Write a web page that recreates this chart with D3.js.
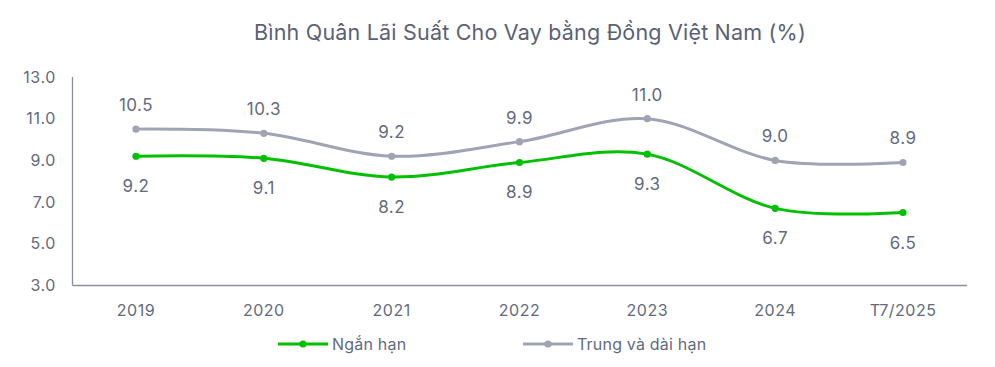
<!DOCTYPE html>
<html><head><meta charset="utf-8">
<script src="https://cdn.jsdelivr.net/npm/d3@7"></script>
<style>body{margin:0;background:#fff;} svg{display:block;font-family:Inter,"Noto Sans",sans-serif;}</style>
</head><body>
<svg id="c" width="995" height="367"></svg>
<script>
const categories = ["2019","2020","2021","2022","2023","2024","T7/2025"];
const shortTerm = [9.2, 9.1, 8.2, 8.9, 9.3, 6.7, 6.5];
const longTerm = [10.5, 10.3, 9.2, 9.9, 11.0, 9.0, 8.9];
const yTicks = [3, 5, 7, 9, 11, 13];
const seriesNames = ["Ngắn hạn", "Trung và dài hạn"];
const title = "Bình Quân Lãi Suất Cho Vay bằng Đồng Việt Nam (%)";

const svg = d3.select("#c");
const textCol = "#636a7e";
const green = "#00c000", grey = "#9ea4b4";
const x = d3.scalePoint().domain(categories).range([136, 903]);
const y = d3.scaleLinear().domain([3, 13]).range([285.5, 77]);

svg.append("text").attr("x", 530).attr("y", 40).attr("text-anchor", "middle")
  .attr("font-size", 21.5).attr("letter-spacing", 0.2).attr("fill", "#5a6175").text(title);

// axes
svg.append("line").attr("x1", 72.5).attr("x2", 72.5).attr("y1", y(13)).attr("y2", y(3)).attr("stroke", "#8a90a0").attr("stroke-width", 1.3);
svg.append("line").attr("x1", 72.5).attr("x2", 967).attr("y1", y(3)).attr("y2", y(3)).attr("stroke", "#8a90a0").attr("stroke-width", 1.3);

svg.selectAll(".yt").data(yTicks).join("text").attr("x", 56).attr("y", d => y(d) + 5.5)
  .attr("text-anchor", "end").attr("font-size", 16).attr("letter-spacing", 0.6).attr("fill", textCol).text(d => d.toFixed(1));
svg.selectAll(".xt").data(categories).join("text").attr("x", d => x(d)).attr("y", 316)
  .attr("text-anchor", "middle").attr("font-size", 16).attr("letter-spacing", 0.5).attr("fill", textCol).text(d => d);

const line = d3.line().x((d, i) => x(categories[i])).y(d => y(d)).curve(d3.curveCardinal.tension(0));

function drawSeries(vals, col, above) {
  svg.append("path").datum(vals).attr("d", line).attr("fill", "none").attr("stroke", col).attr("stroke-width", 3);
  svg.selectAll(null).data(vals).join("circle").attr("cx", (d, i) => x(categories[i])).attr("cy", d => y(d)).attr("r", 3.6).attr("fill", col);
  svg.selectAll(null).data(vals).join("text").attr("x", (d, i) => x(categories[i]))
    .attr("y", d => above ? y(d) - 18 : y(d) + 36).attr("text-anchor", "middle")
    .attr("font-size", 17).attr("letter-spacing", 0.5).attr("fill", textCol).text(d => d.toFixed(1));
}
drawSeries(longTerm, grey, true);
drawSeries(shortTerm, green, false);

// legend
const leg = [{n: seriesNames[0], c: green, x: 278}, {n: seriesNames[1], c: grey, x: 523}];
leg.forEach(l => {
  svg.append("line").attr("x1", l.x).attr("x2", l.x + 50).attr("y1", 344).attr("y2", 344).attr("stroke", l.c).attr("stroke-width", 3);
  svg.append("circle").attr("cx", l.x + 25).attr("cy", 344).attr("r", 3.6).attr("fill", l.c);
  svg.append("text").attr("x", l.x + 54).attr("y", 350).attr("font-size", 16).attr("letter-spacing", 0.2).attr("fill", textCol).text(l.n);
});
</script>
</body></html>
